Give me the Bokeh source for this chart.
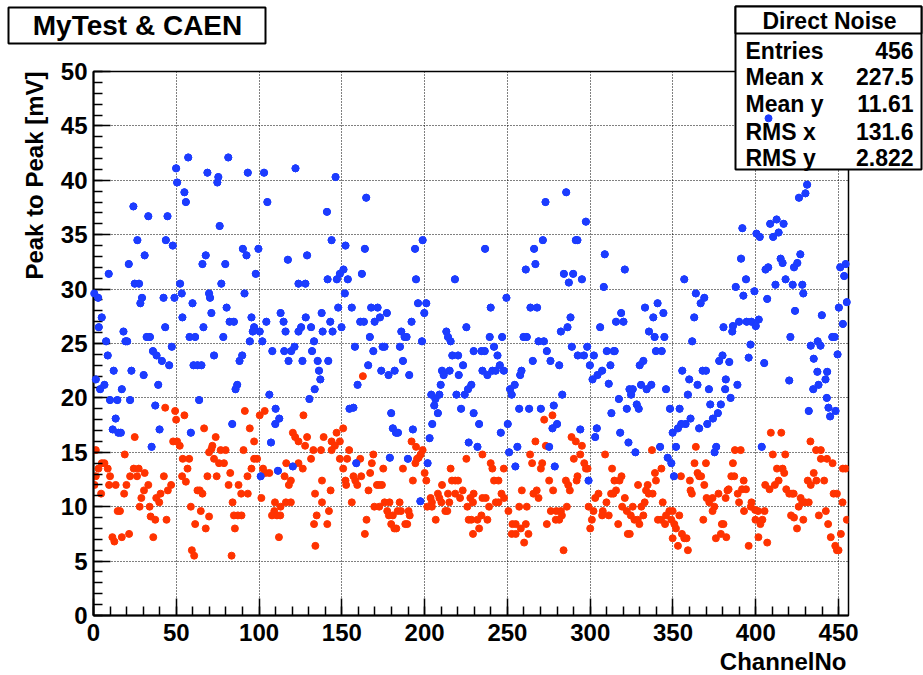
import math
from bokeh.plotting import figure
from bokeh.models import Range1d, SingleIntervalTicker, Label, BoxAnnotation
from bokeh.embed import file_html
from bokeh.resources import INLINE

# ---------------- data ----------------
blue_x = [57.2, 49.9, 68.8, 50.5, 54.9, 55.8, 24.1, 33.1, 44.7, 26.5, 43.7, 47.9, 30.9, 67.8, 65.8, 21.3,
          9.2, 24.9, 27.5, 52.3, 0.4, 2.8, 53.3, 29.3, 28.3, 42.3, 48.9, 69.8, 70.4, 59.8, 71.2, 5.0,
          53.7, 3.2, 43.3, 66.4, 18.1, 7.6, 19.3, 20.3, 32.1, 34.1, 58.0, 61.4, 47.3, 35.9, 38.1, 8.6,
          72.8, 41.3, 45.7, 60.4, 62.8, 65.2, 12.2, 22.9, 30.3, 1.4, 6.6, 4.0, 39.1, 17.1, 10.0, 14.4,
          22.1, 63.8, 37.3, 13.4, 11.6, 15.0, 16.5, 39.9, 58.8, 35.1,
          81.4, 75.4, 74.8, 93.2, 103.0, 122.0, 146.2, 105.0, 141.0, 76.2, 143.8, 152.2, 90.2, 92.4, 99.6, 117.4,
          129.0, 79.6, 98.0, 151.0, 148.8, 147.0, 77.2, 123.8, 128.0, 141.4, 91.2, 151.8, 80.4, 147.8, 82.2, 84.8,
          95.4, 113.0, 114.8, 104.4, 128.2, 137.8, 143.0, 97.0, 96.2, 100.4, 116.0, 123.8, 125.4, 131.4, 138.4, 144.4,
          149.8, 78.4, 94.4, 102.0, 133.2, 89.8, 88.2, 108.0, 115.2, 119.4, 121.4, 132.0, 117.8, 126.2, 135.4, 141.8,
          136.2, 137.0, 133.6, 130.4, 86.8, 85.8, 106.2, 110.0, 112.2, 109.8, 83.8, 107.2, 120.4, 111.4, 101.0,
          164.7, 163.9, 194.2, 198.8, 153.6, 162.1, 194.8, 218.3, 196.0, 201.0, 199.8, 156.0, 167.7, 171.6, 177.2, 173.0,
          169.8, 161.1, 163.3, 192.1, 225.2, 185.9, 213.1, 214.1, 215.7, 166.9, 187.9, 189.1, 198.4, 157.9, 174.6, 175.8,
          185.1, 169.0, 229.6, 216.7, 220.2, 186.9, 165.9, 223.2, 210.5, 211.5, 215.1, 173.8, 181.9, 178.2, 190.7, 220.6,
          159.5, 209.7, 228.2, 226.2, 204.0, 208.9, 219.2, 224.2, 206.5, 205.8, 154.6, 157.0, 222.0, 208.0, 179.8, 229.6,
          204.6, 180.8, 182.7, 183.9, 192.9, 203.0, 226.6, 179.0, 189.9, 158.7, 201.8, 197.4,
          285.5, 273.0, 297.4, 271.4, 291.3, 292.3, 236.5, 266.1, 261.1, 266.9, 284.1, 289.7, 287.1, 295.0, 249.4, 239.9,
          263.9, 267.9, 288.1, 282.3, 286.3, 306.0, 239.3, 246.8, 259.7, 261.7, 268.8, 272.0, 234.3, 236.3, 241.9, 273.8,
          288.9, 298.2, 244.0, 292.5, 296.2, 302.2, 265.3, 276.0, 281.3, 299.8, 245.4, 234.9, 240.9, 242.9, 247.8, 258.5,
          257.7, 237.9, 304.4, 301.4, 254.4, 251.6, 252.6, 283.1, 257.1, 263.1, 270.2, 278.0, 232.9, 250.2, 280.0, 277.2,
          246.0, 294.0, 304.0, 303.0, 231.9, 256.0, 275.2, 251.0, 254.8, 278.6, 299.0,
          308.8, 320.9, 308.2, 356.8, 363.8, 368.9, 366.7, 362.8, 333.1, 340.7, 344.2, 338.1, 318.7, 315.6, 320.1, 380.5,
          335.5, 338.9, 344.8, 361.6, 310.0, 314.2, 314.8, 339.7, 343.2, 379.9, 377.9, 312.2, 329.9, 332.1, 307.2, 355.6,
          367.9, 369.9, 359.8, 364.8, 371.7, 381.9, 381.5, 311.2, 323.7, 325.7, 324.7, 330.7, 334.1, 336.9, 345.8, 359.0,
          317.3, 328.1, 329.3, 322.1, 348.2, 354.0, 372.5, 378.9, 312.8, 377.1, 374.1, 370.7, 360.6, 357.6, 355.0, 353.0,
          365.8, 349.8, 318.1, 323.1, 342.2, 351.8, 376.1, 375.1, 327.3, 346.8, 349.0, 350.6,
          431.0, 430.0, 426.1, 391.9, 408.7, 412.6, 416.8, 413.8, 400.4, 402.4, 410.5, 391.1, 415.0, 416.2, 426.9, 425.1,
          423.1, 407.5, 405.9, 451.0, 454.3, 453.4, 394.1, 418.0, 422.3, 428.1, 428.7, 411.9, 387.9, 399.2, 392.5, 406.9,
          455.0, 450.2, 423.7, 439.9, 389.9, 394.5, 397.4, 401.8, 386.2, 385.8, 400.0, 452.6, 420.9, 446.2, 447.6, 396.8,
          433.2, 437.4, 439.1, 449.4, 395.7, 405.1, 384.0, 435.0, 437.2, 443.1, 442.1, 437.9, 434.7, 388.9, 420.2, 384.8,
          442.9, 443.9, 444.9, 448.2, 432.0, 403.6, 407.7]
blue_y = [42.1, 41.1, 40.7, 39.8, 38.9, 38.0, 37.6, 36.7, 36.7, 34.5, 34.5, 34.0, 33.1, 33.1, 32.3, 32.3,
          31.4, 30.5, 30.5, 30.5, 29.6, 29.2, 29.6, 29.2, 28.7, 29.2, 29.2, 29.6, 29.2, 28.7, 27.8, 27.4,
          27.4, 26.5, 26.5, 26.5, 26.1, 25.2, 25.2, 25.2, 25.6, 25.6, 25.6, 25.6, 24.7, 24.3, 23.9, 23.9,
          23.9, 23.4, 23.0, 23.0, 23.0, 23.0, 22.5, 22.5, 22.1, 21.7, 21.2, 20.8, 21.2, 20.8, 19.8, 19.8,
          19.8, 19.8, 19.3, 18.1, 17.1, 16.8, 16.8, 17.1, 16.8, 15.5,
          42.1, 40.3, 39.8, 40.7, 40.7, 41.1, 40.3, 38.0, 37.1, 35.8, 34.5, 34.0, 33.7, 33.1, 33.7, 32.7,
          33.1, 32.3, 31.4, 31.8, 31.4, 30.9, 30.5, 30.5, 30.5, 30.9, 29.6, 29.6, 28.3, 28.3, 27.0, 27.0,
          27.4, 27.8, 27.0, 27.0, 27.4, 27.8, 27.0, 26.5, 26.1, 26.1, 26.1, 26.1, 26.5, 26.5, 26.1, 26.1,
          26.5, 25.6, 25.2, 25.2, 25.2, 23.9, 23.4, 24.3, 24.3, 24.3, 24.7, 24.3, 23.4, 23.4, 23.4, 23.4,
          22.5, 21.7, 20.8, 19.9, 21.2, 20.8, 20.3, 19.0, 18.1, 17.6, 17.6, 15.9, 13.7, 13.3, 12.8,
          38.4, 33.7, 33.7, 34.5, 30.9, 31.4, 30.9, 30.9, 28.7, 28.7, 27.8, 28.3, 28.3, 28.3, 27.8, 27.4,
          27.0, 27.0, 27.0, 27.0, 26.5, 26.1, 26.1, 25.6, 25.2, 25.6, 25.6, 25.6, 25.2, 24.7, 24.7, 24.7,
          24.7, 24.3, 24.3, 23.9, 23.9, 23.4, 23.0, 23.0, 22.5, 22.1, 22.5, 22.5, 22.5, 22.1, 22.1, 22.1,
          21.2, 21.2, 21.2, 20.8, 20.3, 20.3, 20.3, 20.3, 19.9, 19.3, 19.0, 19.1, 19.0, 18.6, 18.6, 18.6,
          17.6, 17.2, 16.8, 16.8, 17.1, 16.3, 15.9, 14.5, 14.4, 14.0, 14.0, 10.5,
          38.9, 38.0, 36.2, 34.5, 34.5, 34.5, 33.7, 33.7, 31.8, 32.3, 31.4, 31.4, 30.6, 30.9, 29.2, 28.3,
          28.3, 28.3, 27.4, 26.1, 26.5, 26.5, 25.6, 25.6, 25.6, 25.6, 25.2, 25.2, 24.3, 24.3, 24.7, 24.3,
          24.7, 24.7, 23.9, 23.9, 23.9, 23.9, 23.4, 23.4, 23.0, 23.0, 23.0, 22.5, 22.5, 22.5, 22.5, 22.5,
          22.1, 22.1, 22.1, 21.7, 21.2, 20.8, 20.3, 20.3, 19.0, 19.0, 19.0, 19.3, 17.6, 17.6, 17.6, 17.2,
          16.8, 17.1, 17.2, 16.4, 15.5, 15.5, 15.5, 15.0, 13.7, 13.7, 12.4,
          33.2, 31.8, 30.2, 30.9, 29.6, 29.2, 28.7, 27.4, 28.3, 28.7, 27.8, 27.4, 27.8, 27.0, 27.0, 26.5,
          26.1, 25.6, 25.6, 25.2, 24.3, 24.3, 24.3, 24.3, 24.3, 23.9, 23.4, 23.0, 23.0, 23.4, 22.5, 22.5,
          22.5, 22.5, 21.7, 21.2, 20.8, 21.7, 20.8, 21.3, 20.8, 20.8, 20.3, 21.2, 20.8, 21.2, 20.8, 20.3,
          19.9, 19.4, 19.0, 19.0, 19.0, 19.0, 19.4, 19.4, 18.6, 18.6, 18.1, 17.6, 18.1, 17.6, 17.6, 17.2,
          17.2, 16.8, 16.8, 15.9, 15.5, 15.5, 15.5, 15.0, 15.0, 14.5, 14.0, 12.8,
          39.6, 38.8, 38.4, 35.6, 36.0, 36.4, 36.0, 35.2, 35.1, 34.8, 34.8, 32.8, 32.8, 32.4, 33.2, 32.4,
          32.0, 32.0, 31.8, 32.0, 32.3, 31.2, 30.9, 30.9, 30.4, 30.4, 29.6, 30.4, 30.2, 29.8, 29.4, 29.1,
          28.8, 28.3, 28.0, 27.6, 27.0, 27.0, 27.0, 27.2, 26.6, 26.1, 26.6, 26.8, 25.6, 25.6, 25.6, 24.9,
          24.8, 25.2, 24.8, 24.0, 23.7, 23.2, 23.3, 23.6, 22.4, 22.4, 21.7, 21.2, 20.8, 21.2, 21.6, 20.0,
          20.0, 19.1, 18.3, 18.8, 18.8, 15.5, 45.7]

red_x = [43.3, 49.3, 54.9, 49.9, 66.8, 24.9, 73.8, 48.1, 50.5, 52.1, 71.8, 71.2, 69.8, 1.4, 18.9, 72.8,
         53.9, 57.8, 5.0, 6.6, 3.0, 8.6, 56.8, 75.8, 24.3, 27.3, 30.9, 1.4, 10.0, 22.1, 26.3, 42.5,
         53.5, 68.8, 74.4, 55.8, 0.6, 9.4, 13.4, 19.9, 33.1, 46.9, 30.5, 44.9, 62.8, 64.2, 4.6, 18.5,
         40.5, 65.8, 28.9, 37.9, 39.7, 27.9, 33.9, 58.8, 14.6, 16.0, 64.8, 34.5, 69.8, 37.3, 44.1, 61.4,
         67.8, 11.4, 17.1, 21.5, 36.1, 12.6, 59.4, 60.8,
         91.4, 103.4, 100.4, 126.8, 94.4, 97.0, 120.4, 121.8, 123.8, 129.0, 139.0, 146.8, 150.8, 127.8, 143.8, 145.8,
         148.8, 76.8, 79.8, 90.6, 132.8, 137.4, 143.8, 97.0, 98.8, 78.8, 131.4, 116.4, 123.8, 148.8, 153.2, 95.4,
         102.4, 103.8, 106.2, 126.4, 150.8, 82.6, 93.0, 115.4, 119.2, 118.0, 152.2, 152.6, 138.0, 81.6, 87.6, 143.2,
         89.2, 93.2, 133.8, 101.4, 84.0, 109.6, 116.2, 119.2, 138.0, 113.0, 142.2, 109.2, 84.8, 87.2, 89.4, 107.8,
         110.8, 112.8, 134.8, 133.2, 141.2, 85.4, 112.0, 134.0, 83.4,
         162.7, 192.1, 194.8, 154.4, 198.8, 197.6, 196.4, 169.0, 161.1, 195.4, 194.4, 225.2, 168.1, 186.9, 175.0, 215.7,
         200.0, 167.1, 157.0, 161.7, 158.1, 201.0, 192.9, 216.5, 218.5, 220.2, 159.3, 171.2, 172.6, 174.2, 210.5, 166.1,
         223.0, 208.0, 214.1, 218.5, 229.6, 203.6, 208.9, 221.4, 227.6, 156.0, 175.8, 178.8, 184.9, 204.4, 210.1, 214.9,
         169.6, 172.6, 201.6, 204.4, 225.8, 177.4, 183.7, 185.7, 190.3, 212.5, 213.7, 178.4, 180.8, 191.0, 164.9, 206.7,
         226.6, 228.2, 179.8, 188.3, 189.5, 181.7, 182.9, 163.9, 229.2,
         272.2, 277.2, 288.7, 291.3, 295.0, 266.9, 273.2, 234.9, 263.7, 294.0, 290.1, 239.9, 240.9, 247.8, 264.9, 271.0,
         270.2, 296.4, 297.4, 298.4, 292.3, 291.8, 241.9, 244.6, 275.2, 285.3, 286.7, 287.7, 258.7, 267.7, 277.6, 246.4,
         265.7, 236.9, 234.9, 248.0, 268.8, 229.2, 243.0, 244.6, 305.0, 303.0, 238.9, 257.1, 261.7, 285.9, 299.0, 276.2,
         279.6, 282.3, 302.0, 250.6, 231.9, 237.9, 234.3, 279.2, 281.3, 301.0, 282.9, 253.0, 255.0, 258.1, 252.6, 255.0,
         261.1, 273.8, 232.9, 262.7, 300.0, 260.1, 283.9,
         363.8, 337.3, 309.0, 363.0, 369.9, 313.2, 343.0, 339.1, 339.7, 364.8, 365.8, 367.0, 318.9, 314.6, 317.7, 354.8,
         360.2, 328.9, 334.7, 368.9, 315.6, 333.7, 360.6, 312.6, 314.0, 335.3, 337.7, 361.4, 377.5, 382.9, 320.9, 370.3,
         373.9, 309.8, 332.9, 343.8, 371.9, 319.3, 325.7, 330.9, 375.0, 349.8, 307.6, 322.1, 347.8, 373.9, 307.2, 311.2,
         324.5, 332.1, 345.8, 340.9, 342.8, 349.0, 353.8, 368.3, 326.7, 328.7, 316.9, 329.7, 345.2, 350.8, 379.5, 380.5,
         351.8, 322.7, 323.9, 355.4, 356.8, 358.2, 349.8, 375.9, 378.9, 353.0, 359.0,
         409.1, 415.4, 433.0, 387.4, 390.9, 410.3, 417.8, 436.4, 439.3, 439.3, 443.0, 446.4, 386.2, 452.6, 454.3, 412.8,
         416.2, 417.2, 435.0, 385.2, 387.0, 392.7, 413.8, 431.4, 436.6, 441.3, 405.7, 411.5, 433.2, 383.6, 391.7, 394.1,
         408.3, 418.4, 389.1, 421.9, 420.2, 422.9, 447.0, 449.0, 381.8, 427.1, 389.9, 428.1, 429.8, 432.0, 452.4, 397.4,
         397.0, 425.9, 392.9, 399.6, 401.4, 405.3, 442.3, 421.3, 423.1, 399.8, 404.0, 428.7, 438.1, 455.0, 402.8, 443.7,
         424.9, 382.2, 445.3, 401.6, 451.4, 406.9, 395.7, 448.0, 449.0, 450.0]
red_y = [19.1, 18.8, 18.4, 18.0, 17.2, 16.4, 16.4, 16.0, 16.0, 15.6, 15.6, 15.3, 15.0, 15.2, 14.8, 14.4,
         14.4, 14.4, 14.0, 14.0, 13.5, 13.5, 13.5, 14.0, 13.5, 13.5, 13.1, 12.8, 12.8, 12.8, 12.8, 12.8,
         12.8, 12.8, 12.8, 12.3, 12.0, 12.0, 12.0, 12.0, 12.0, 12.0, 11.5, 11.5, 11.5, 11.5, 11.2, 11.2,
         11.2, 11.2, 10.8, 10.8, 10.4, 10.0, 10.0, 10.0, 9.6, 9.6, 9.6, 9.1, 9.1, 8.8, 8.8, 8.4,
         8.0, 7.2, 7.2, 7.5, 7.2, 6.8, 6.0, 5.5,
         18.8, 18.8, 18.4, 18.4, 17.2, 16.0, 16.8, 16.4, 16.0, 16.4, 16.4, 16.8, 17.2, 15.6, 16.0, 15.6,
         16.0, 15.2, 15.2, 15.2, 15.2, 15.2, 15.2, 14.4, 14.4, 14.0, 14.4, 14.0, 14.0, 14.4, 14.4, 13.5,
         13.5, 13.1, 13.1, 13.5, 13.5, 13.1, 12.8, 12.8, 12.4, 12.0, 12.4, 12.0, 12.4, 12.0, 12.0, 11.5,
         11.2, 11.2, 11.2, 10.8, 10.4, 10.4, 10.4, 10.4, 10.4, 10.0, 9.6, 9.6, 9.2, 9.2, 9.2, 9.2,
         9.2, 9.2, 9.2, 8.4, 8.4, 8.0, 7.2, 6.4, 5.5,
         22.0, 16.0, 15.5, 15.2, 15.2, 14.8, 14.5, 14.8, 14.4, 14.4, 14.0, 14.4, 14.0, 13.5, 13.5, 13.5,
         13.1, 13.1, 12.8, 12.8, 12.4, 12.4, 12.4, 12.4, 12.4, 12.4, 12.0, 12.0, 12.0, 12.0, 12.0, 11.5,
         11.5, 11.2, 11.2, 11.2, 11.2, 10.8, 10.8, 10.8, 10.8, 10.4, 10.4, 10.4, 10.4, 10.4, 10.4, 10.4,
         10.0, 10.0, 10.0, 10.0, 10.0, 9.6, 9.6, 9.6, 9.6, 9.6, 9.6, 9.2, 9.2, 9.2, 8.8, 8.8,
         8.8, 8.8, 8.4, 8.4, 8.4, 8.0, 8.0, 7.5, 7.5,
         18.0, 18.4, 16.4, 16.0, 15.6, 16.0, 15.6, 14.8, 14.8, 14.8, 14.4, 14.0, 13.5, 13.5, 14.0, 14.0,
         13.5, 14.0, 13.5, 13.5, 12.8, 12.4, 12.4, 12.4, 12.4, 12.4, 12.0, 11.5, 11.5, 11.5, 11.5, 11.2,
         11.2, 10.8, 10.8, 10.8, 10.8, 10.4, 10.4, 10.4, 11.2, 10.8, 10.0, 10.0, 10.0, 10.0, 10.0, 9.6,
         9.6, 9.6, 9.6, 9.6, 8.8, 8.8, 9.2, 8.8, 8.8, 8.8, 9.2, 8.4, 8.4, 8.0, 7.5, 7.5,
         8.4, 8.4, 8.0, 7.5, 8.0, 6.7, 6.0,
         15.5, 15.2, 14.8, 14.0, 14.0, 13.5, 13.5, 13.1, 12.4, 13.1, 12.8, 12.8, 12.8, 12.4, 12.4, 12.8,
         12.4, 12.0, 12.0, 12.0, 11.5, 11.5, 11.5, 11.2, 11.2, 11.2, 11.2, 11.2, 11.2, 11.5, 10.8, 10.8,
         10.8, 10.4, 10.4, 10.4, 10.4, 10.0, 10.0, 10.0, 10.0, 9.6, 9.6, 9.6, 9.6, 9.6, 9.2, 9.2,
         9.2, 9.2, 9.2, 8.8, 8.8, 8.8, 9.2, 8.8, 8.8, 8.8, 8.4, 8.4, 8.4, 8.4, 8.4, 8.4,
         8.0, 7.5, 7.5, 7.5, 7.1, 7.1, 7.1, 7.1, 7.5, 6.4, 6.0,
         16.8, 16.8, 16.0, 15.2, 15.2, 14.8, 14.8, 15.2, 15.2, 14.4, 14.4, 14.0, 14.0, 13.5, 13.5, 13.5,
         13.5, 13.1, 13.1, 12.8, 12.8, 12.4, 12.4, 12.4, 12.4, 12.4, 12.0, 12.0, 12.0, 11.6, 11.6, 11.6,
         11.6, 11.6, 11.2, 11.2, 11.2, 11.2, 11.2, 11.2, 10.8, 10.8, 10.4, 10.4, 10.4, 10.4, 10.4, 10.4,
         10.0, 10.0, 9.6, 9.7, 9.6, 9.6, 9.6, 9.2, 9.0, 8.8, 8.8, 8.8, 9.2, 8.8, 8.4, 8.4,
         8.0, 7.2, 7.2, 7.2, 7.5, 6.7, 6.4, 6.4, 6.0, 6.0]

x_max = 456
y_max = 50
x_ticks_interval = 50
y_ticks_interval = 5
title_text = "MyTest & CAEN"
stats_title = "Direct Noise"
stats_names = ["Entries", "Mean x", "Mean y", "RMS x", "RMS y"]
stats_values = ["456", "227.5", "11.61", "131.6", "2.822"]
x_title = "ChannelNo"
y_title = "Peak to Peak [mV]"

# ---------------- layout constants (pixels) ----------------
FONT = "Liberation Sans"
W, H = 923, 675
FL, FT, FR, FB = 93, 71, 848, 615          # plot frame edges
BLUE, RED = "#1c3cff", "#ff3300"
DOT = 7

# ---------------- main plot ----------------
p = figure(width=W, height=H, output_backend="svg", toolbar_location=None, title=None,
           x_range=Range1d(0, x_max), y_range=Range1d(0, y_max),
           min_border_left=FL, min_border_right=W - FR, min_border_top=FT, min_border_bottom=H - FB)
p.background_fill_color = "white"
p.border_fill_color = "white"
p.outline_line_color = "black"
p.outline_line_width = 1.5

p.xaxis.ticker = SingleIntervalTicker(interval=x_ticks_interval, num_minor_ticks=5)
p.yaxis.ticker = SingleIntervalTicker(interval=y_ticks_interval, num_minor_ticks=5)
for ax in (p.xaxis[0], p.yaxis[0]):
    ax.axis_line_color = "black"
    ax.axis_line_width = 2
    ax.major_tick_in = 17
    ax.major_tick_out = 0
    ax.minor_tick_in = 9
    ax.minor_tick_out = 0
    ax.major_tick_line_width = 1.5
    ax.minor_tick_line_width = 1.5
    ax.major_tick_line_color = "black"
    ax.minor_tick_line_color = "black"
    ax.major_label_text_font = FONT
    ax.major_label_text_font_style = "bold"
    ax.major_label_text_font_size = "24px"
    ax.major_label_text_color = "black"
p.xaxis.major_label_standoff = 8
p.yaxis.major_label_standoff = 6

for g in (p.xgrid[0], p.ygrid[0]):
    g.grid_line_color = "black"
    g.grid_line_dash = "1 2"
    g.grid_line_width = 1

p.scatter(blue_x, blue_y, size=DOT, fill_color=BLUE, line_color=BLUE)
p.scatter(red_x, red_y, size=DOT, fill_color=RED, line_color=RED)

# ---------------- overlay (full-canvas frame, for boxes and titles outside the frame) ----------------
kx = (FR - FL) / x_max
ky = (FB - FT) / y_max
o = figure(width=W, height=H, output_backend="svg", toolbar_location=None, title=None,
           x_axis_type=None, y_axis_type=None,
           x_range=Range1d(-FL / kx, (W - FL) / kx), y_range=Range1d(-(H - FB) / ky, FB / ky),
           min_border=0, min_border_left=0, min_border_right=0, min_border_top=0, min_border_bottom=0,
           styles={"position": "absolute", "top": "0px", "left": "0px"})
o.background_fill_color = None
o.border_fill_color = None
o.outline_line_color = None


def sx(px):
    return px


def sy(py):
    return H - py


def box(l, r, t, b):
    o.add_layout(BoxAnnotation(left=sx(l), right=sx(r), top=sy(t), bottom=sy(b),
                               left_units="screen", right_units="screen",
                               top_units="screen", bottom_units="screen",
                               fill_color="white", fill_alpha=1,
                               line_color="black", line_alpha=1, line_width=2))


def text(x, y, s, size, align="left", angle=0.0):
    o.add_layout(Label(x=sx(x), y=sy(y), x_units="screen", y_units="screen", text=s, angle=angle,
                       text_font=FONT, text_font_style="bold", text_font_size=size,
                       text_align=align, text_baseline="middle", text_color="black"))


# title box
box(8, 265, 7, 43)
text(137, 25, title_text, "28px", "center")

# statistics box
BL, BR, BT, BB, BH = 735, 921, 6, 169, 33
box(BL, BR, BT, BB)
box(BL, BR, BT, BH)
text((BL + BR) / 2 + 1, 20, stats_title, "23px", "center")
for name, val, ym in zip(stats_names, stats_values, [50, 76, 103, 131, 157]):
    text(745, ym, name, "23px", "left")
    text(913, ym, val, "23px", "right")

# axis titles
text(846, 661, x_title, "24px", "right")
text(34, FT, y_title, "24px", "right", math.pi / 2)

# the graph's points are drawn over the statistics box in the reference
o.scatter(blue_x, blue_y, size=DOT, fill_color=BLUE, line_color=BLUE, level="overlay")

open("out.html", "w").write(file_html([p, o], INLINE))
